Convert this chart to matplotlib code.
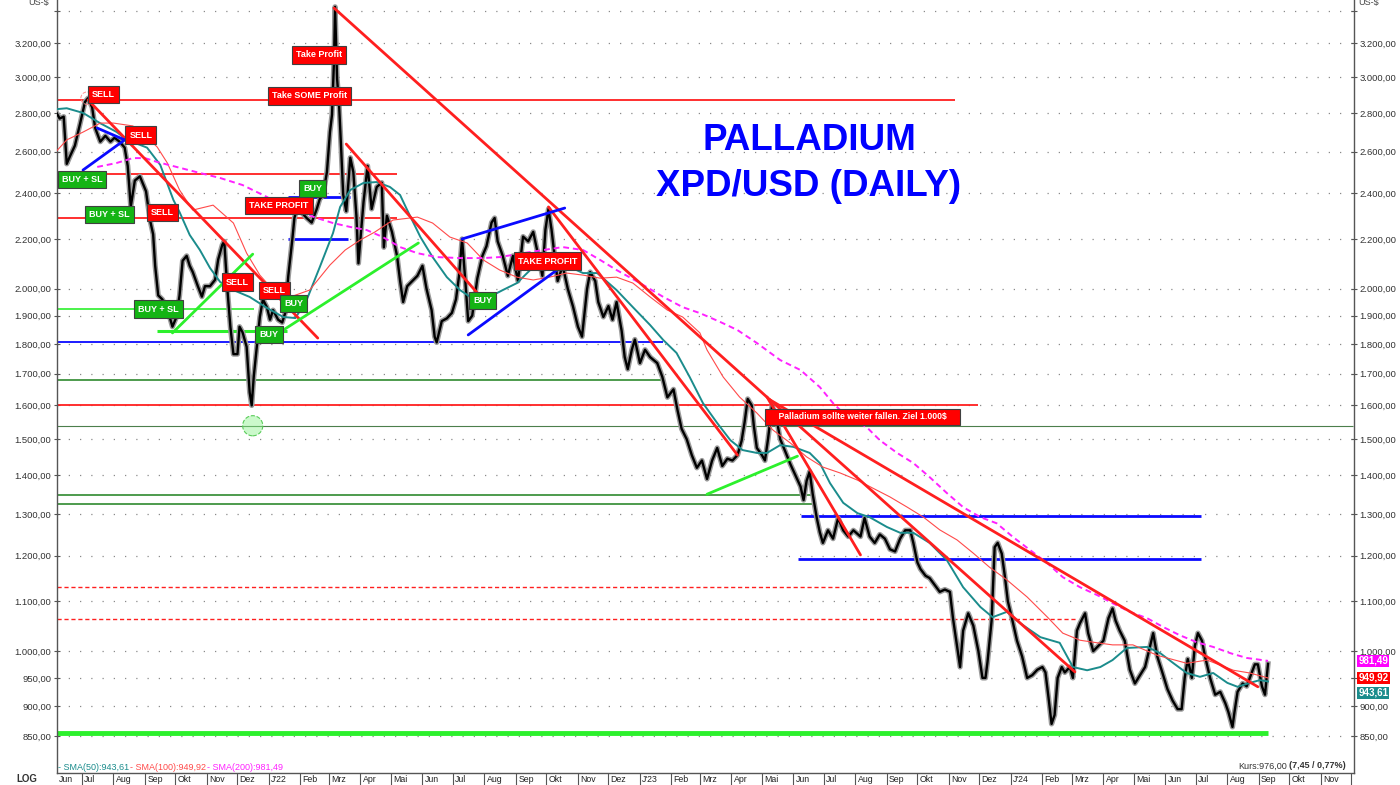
import matplotlib
matplotlib.use("Agg")
import matplotlib.pyplot as plt
import matplotlib.dates as mdates
import pandas as pd
from matplotlib.ticker import FixedLocator, FuncFormatter, NullLocator

plt.rcParams["font.family"] = ["Liberation Sans", "DejaVu Sans"]

# ---------------------------------------------------------------------------
# Values (XPD/USD daily, log scale)
# ---------------------------------------------------------------------------
PRICE_DATES = [
    "2021-06-06", "2021-06-09", "2021-06-13", "2021-06-16", "2021-06-19", "2021-06-24", "2021-06-29",
    "2021-07-04", "2021-07-07", "2021-07-11", "2021-07-14", "2021-07-19", "2021-07-24", "2021-07-29",
    "2021-08-02", "2021-08-07", "2021-08-12", "2021-08-15", "2021-08-18", "2021-08-22", "2021-08-27",
    "2021-09-02", "2021-09-06", "2021-09-09", "2021-09-11", "2021-09-14", "2021-09-18", "2021-09-23",
    "2021-09-28", "2021-10-02", "2021-10-05", "2021-10-08", "2021-10-12", "2021-10-15", "2021-10-18",
    "2021-10-23", "2021-10-27", "2021-10-30", "2021-11-04", "2021-11-09", "2021-11-12", "2021-11-16",
    "2021-11-18", "2021-11-21", "2021-11-24", "2021-11-27", "2021-12-01", "2021-12-03", "2021-12-06",
    "2021-12-10", "2021-12-13", "2021-12-15", "2021-12-17", "2021-12-20", "2021-12-23", "2021-12-26",
    "2021-12-30", "2022-01-02", "2022-01-05", "2022-01-10", "2022-01-14", "2022-01-17", "2022-01-20",
    "2022-01-24", "2022-01-26", "2022-01-29", "2022-02-01", "2022-02-07", "2022-02-12", "2022-02-17",
    "2022-02-20", "2022-02-23", "2022-02-27", "2022-03-02", "2022-03-04", "2022-03-06", "2022-03-07",
    "2022-03-09", "2022-03-11", "2022-03-13", "2022-03-15", "2022-03-18", "2022-03-22", "2022-03-25",
    "2022-03-28", "2022-03-30", "2022-04-04", "2022-04-08", "2022-04-12", "2022-04-17", "2022-04-22",
    "2022-04-24", "2022-04-27", "2022-05-02", "2022-05-07", "2022-05-10", "2022-05-13", "2022-05-17",
    "2022-05-22", "2022-05-27", "2022-06-01", "2022-06-05", "2022-06-10", "2022-06-13", "2022-06-15",
    "2022-06-20", "2022-06-25", "2022-06-30", "2022-07-04", "2022-07-07", "2022-07-10", "2022-07-13",
    "2022-07-16", "2022-07-20", "2022-07-25", "2022-07-30", "2022-08-03", "2022-08-08", "2022-08-11",
    "2022-08-14", "2022-08-19", "2022-08-24", "2022-08-29", "2022-09-03", "2022-09-08", "2022-09-13",
    "2022-09-18", "2022-09-23", "2022-09-27", "2022-09-30", "2022-10-03", "2022-10-06", "2022-10-09",
    "2022-10-12", "2022-10-17", "2022-10-22", "2022-10-27", "2022-11-01", "2022-11-05", "2022-11-10",
    "2022-11-13", "2022-11-18", "2022-11-21", "2022-11-26", "2022-12-01", "2022-12-05", "2022-12-09",
    "2022-12-14", "2022-12-17", "2022-12-20", "2022-12-24", "2022-12-27", "2023-01-01", "2023-01-06",
    "2023-01-11", "2023-01-18", "2023-01-23", "2023-01-28", "2023-02-03", "2023-02-07", "2023-02-11",
    "2023-02-16", "2023-02-21", "2023-02-26", "2023-03-03", "2023-03-08", "2023-03-13", "2023-03-18",
    "2023-03-23", "2023-03-28", "2023-04-02", "2023-04-07", "2023-04-11", "2023-04-14", "2023-04-17",
    "2023-04-21", "2023-04-23", "2023-04-26", "2023-05-01", "2023-05-04", "2023-05-07", "2023-05-11",
    "2023-05-16", "2023-05-19", "2023-05-24", "2023-05-29", "2023-06-03", "2023-06-08", "2023-06-11",
    "2023-06-14", "2023-06-17", "2023-06-20", "2023-06-24", "2023-06-27", "2023-06-30", "2023-07-05",
    "2023-07-10", "2023-07-15", "2023-07-20", "2023-07-25", "2023-07-30", "2023-08-06", "2023-08-10",
    "2023-08-15", "2023-08-20", "2023-08-25", "2023-08-30", "2023-09-04", "2023-09-09", "2023-09-14",
    "2023-09-19", "2023-09-24", "2023-09-27", "2023-10-01", "2023-10-04", "2023-10-09", "2023-10-13",
    "2023-10-18", "2023-10-23", "2023-10-28", "2023-11-02", "2023-11-05", "2023-11-09", "2023-11-12",
    "2023-11-15", "2023-11-20", "2023-11-25", "2023-11-30", "2023-12-04", "2023-12-07", "2023-12-09",
    "2023-12-13", "2023-12-16", "2023-12-19", "2023-12-23", "2023-12-26", "2023-12-29", "2024-01-02",
    "2024-01-07", "2024-01-12", "2024-01-17", "2024-01-22", "2024-01-27", "2024-02-01", "2024-02-04",
    "2024-02-07", "2024-02-10", "2024-02-13", "2024-02-16", "2024-02-20", "2024-02-23", "2024-02-28",
    "2024-03-02", "2024-03-06", "2024-03-09", "2024-03-14", "2024-03-17", "2024-03-22", "2024-03-27",
    "2024-04-01", "2024-04-06", "2024-04-10", "2024-04-13", "2024-04-17", "2024-04-22", "2024-04-27",
    "2024-05-02", "2024-05-07", "2024-05-12", "2024-05-17", "2024-05-20", "2024-05-24", "2024-05-29",
    "2024-06-03", "2024-06-08", "2024-06-13", "2024-06-17", "2024-06-20", "2024-06-23", "2024-06-27",
    "2024-06-30", "2024-07-03", "2024-07-07", "2024-07-10", "2024-07-15", "2024-07-20", "2024-07-25",
    "2024-07-30", "2024-08-02", "2024-08-06", "2024-08-08", "2024-08-11", "2024-08-16", "2024-08-20",
    "2024-08-23", "2024-08-28", "2024-08-31", "2024-09-04", "2024-09-07", "2024-09-10",
]
PRICE = [
    2800, 2770, 2780, 2540, 2575, 2630, 2740,
    2860, 2880, 2830, 2720, 2650, 2680, 2650,
    2670, 2650, 2620, 2530, 2340, 2460, 2480,
    2410, 2280, 2220, 2090, 1975, 1960, 1925,
    1860, 1895, 1975, 2110, 2130, 2090, 2065,
    2010, 1970, 2010, 2010, 2035, 2115, 2175,
    2190, 2000, 1860, 1765, 1765, 1860, 1840,
    1790, 1640, 1600, 1690, 1790, 1895, 1960,
    1930, 1885, 1920, 1885, 1875, 1910, 2050,
    2200, 2290, 2340, 2320, 2290, 2270, 2330,
    2375, 2390, 2500, 2700, 2790, 3100, 3430,
    2990, 2840, 2615, 2395, 2320, 2570, 2500,
    2300, 2100, 2360, 2530, 2330, 2430, 2450,
    2165, 2300, 2230, 2130, 2030, 1950, 2010,
    2030, 2050, 2090, 2000, 1920, 1825, 1805,
    1880, 1890, 1910, 1960, 2050, 2200, 2040,
    1880, 1900, 2040, 2130, 2170, 2270, 2290,
    2190, 2130, 2050, 2130, 2030, 2210, 2190,
    2230, 2130, 2050, 2240, 2330, 2240, 2130,
    2030, 2090, 2000, 1935, 1860, 1825, 2000,
    2065, 2030, 1950, 1895, 1935, 1885, 1950,
    1845, 1755, 1715, 1780, 1815, 1735, 1780,
    1755, 1735, 1690, 1625, 1650, 1585, 1530,
    1500, 1455, 1420, 1440, 1390, 1440, 1475,
    1425, 1445, 1440, 1455, 1495, 1550, 1620,
    1600, 1540, 1475, 1455, 1440, 1500, 1600,
    1550, 1500, 1465, 1430, 1400, 1370, 1335,
    1385, 1410, 1350, 1290, 1255, 1230, 1260,
    1240, 1290, 1260, 1245, 1260, 1245, 1290,
    1245, 1230, 1250, 1240, 1215, 1210, 1240,
    1260, 1260, 1230, 1185, 1170, 1155, 1150,
    1135, 1120, 1125, 1120, 1065, 1010, 970,
    1040, 1075, 1050, 1000, 950, 950, 980,
    1060, 1220, 1230, 1205, 1155, 1100, 1065,
    1020, 990, 950, 955, 965, 970, 960,
    915, 870, 885, 950, 970, 960, 970,
    950, 1040, 1055, 1075, 1035, 1000, 1010,
    1020, 1065, 1085, 1060, 1040, 1020, 965,
    940, 955, 970, 1010, 1035, 990, 960,
    930, 910, 895, 895, 950, 985, 950,
    1010, 1035, 1020, 990, 950, 920, 925,
    905, 890, 865, 890, 925, 940, 935,
    950, 975, 975, 935, 920, 976,
]

SMA50_DATES = [
    "2021-06-06", "2021-06-16", "2021-07-02", "2021-07-19", "2021-08-04", "2021-08-14", "2021-09-03",
    "2021-09-16", "2021-09-29", "2021-10-05", "2021-10-15", "2021-10-25", "2021-11-04", "2021-11-14",
    "2021-11-27", "2021-12-13", "2021-12-30", "2022-01-15", "2022-01-27", "2022-02-07", "2022-02-20",
    "2022-03-05", "2022-03-12", "2022-03-22", "2022-04-04", "2022-04-17", "2022-04-30", "2022-05-10",
    "2022-05-17", "2022-05-30", "2022-06-11", "2022-06-25", "2022-07-08", "2022-07-18", "2022-08-06",
    "2022-08-19", "2022-09-02", "2022-09-15", "2022-10-04", "2022-10-24", "2022-11-06", "2022-11-20",
    "2022-12-09", "2022-12-25", "2023-01-11", "2023-01-24", "2023-02-06", "2023-02-19", "2023-03-04",
    "2023-03-18", "2023-03-31", "2023-04-12", "2023-04-26", "2023-05-06", "2023-05-19", "2023-06-01",
    "2023-06-17", "2023-06-27", "2023-07-07", "2023-07-20", "2023-08-03", "2023-08-15", "2023-09-01",
    "2023-09-14", "2023-09-27", "2023-10-13", "2023-10-30", "2023-11-15", "2023-12-02", "2023-12-14",
    "2023-12-28", "2024-01-10", "2024-01-30", "2024-02-18", "2024-03-02", "2024-03-16", "2024-03-29",
    "2024-04-10", "2024-04-24", "2024-05-14", "2024-05-27", "2024-06-09", "2024-06-22", "2024-07-05",
    "2024-07-18", "2024-08-01", "2024-08-11", "2024-08-23", "2024-09-02", "2024-09-10",
]
SMA50 = [
    2820, 2825, 2800, 2745, 2700, 2660, 2620,
    2535, 2370, 2316, 2217, 2154, 2081, 2026,
    1995, 1969, 1928, 1895, 1891, 1957, 2085,
    2225, 2339, 2416, 2449, 2453, 2430, 2393,
    2325, 2208, 2125, 2045, 1995, 1969, 1969,
    1995, 2022, 2073, 2073, 2085, 2061, 2061,
    1995, 1931, 1866, 1813, 1769, 1689, 1607,
    1547, 1497, 1469, 1461, 1461, 1483, 1478,
    1461, 1433, 1379, 1328, 1302, 1292, 1268,
    1254, 1254, 1230, 1190, 1130, 1088, 1067,
    1078, 1055, 1027, 1016, 970, 964, 970,
    983, 1006, 1008, 996, 977, 959, 952,
    959, 941, 934, 941, 946, 943.61,
]

SMA100_DATES = [
    "2021-06-06", "2021-06-16", "2021-07-02", "2021-07-19", "2021-08-01", "2021-08-20", "2021-08-30",
    "2021-09-13", "2021-09-23", "2021-10-05", "2021-10-18", "2021-11-07", "2021-11-27", "2021-12-10",
    "2021-12-23", "2022-01-07", "2022-01-22", "2022-02-10", "2022-03-02", "2022-03-17", "2022-04-01",
    "2022-04-15", "2022-05-03", "2022-05-27", "2022-06-11", "2022-06-28", "2022-07-15", "2022-07-31",
    "2022-08-16", "2022-09-02", "2022-09-18", "2022-10-04", "2022-10-21", "2022-11-06", "2022-11-23",
    "2022-12-09", "2022-12-25", "2023-01-11", "2023-01-28", "2023-02-12", "2023-03-01", "2023-03-08",
    "2023-03-24", "2023-04-09", "2023-04-26", "2023-05-12", "2023-05-29", "2023-06-14", "2023-06-30",
    "2023-07-17", "2023-08-03", "2023-08-18", "2023-09-04", "2023-09-21", "2023-10-07", "2023-10-23",
    "2023-11-09", "2023-11-25", "2023-12-11", "2023-12-28", "2024-01-17", "2024-02-06", "2024-02-21",
    "2024-03-09", "2024-03-26", "2024-04-10", "2024-04-30", "2024-05-24", "2024-06-22", "2024-07-12",
    "2024-08-07", "2024-08-23", "2024-09-10",
]
SMA100 = [
    2603, 2659, 2699, 2746, 2746, 2731, 2694,
    2623, 2544, 2416, 2325, 2347, 2268, 2141,
    2053, 1987, 1969, 1995, 2093, 2154, 2196,
    2229, 2281, 2294, 2268, 2208, 2183, 2113,
    2073, 2045, 2034, 2045, 2061, 2053, 2041,
    2045, 2022, 1969, 1920, 1895, 1838, 1779,
    1689, 1626, 1577, 1526, 1489, 1450, 1422,
    1406, 1387, 1366, 1343, 1317, 1292, 1261,
    1237, 1206, 1174, 1146, 1109, 1067, 1035,
    1021, 1016, 1012, 1012, 992, 977, 983,
    964, 959, 949.92,
]

SMA200_DATES = [
    "2021-07-16", "2021-08-04", "2021-08-20", "2021-09-01", "2021-09-13", "2021-10-02", "2021-10-25",
    "2021-11-14", "2021-12-06", "2021-12-30", "2022-01-15", "2022-02-01", "2022-02-17", "2022-03-05",
    "2022-03-22", "2022-04-07", "2022-04-23", "2022-05-10", "2022-05-27", "2022-06-15", "2022-07-08",
    "2022-07-31", "2022-08-16", "2022-09-08", "2022-09-28", "2022-10-17", "2022-11-06", "2022-11-23",
    "2022-12-09", "2023-01-01", "2023-01-24", "2023-02-12", "2023-03-01", "2023-03-21", "2023-04-07",
    "2023-04-26", "2023-05-19", "2023-06-08", "2023-06-27", "2023-07-10", "2023-07-24", "2023-08-12",
    "2023-08-25", "2023-09-11", "2023-09-27", "2023-10-13", "2023-10-30", "2023-11-15", "2023-12-02",
    "2023-12-18", "2024-01-03", "2024-01-20", "2024-02-06", "2024-02-21", "2024-03-09", "2024-03-26",
    "2024-04-10", "2024-04-27", "2024-05-14", "2024-05-30", "2024-06-15", "2024-07-02", "2024-07-18",
    "2024-08-04", "2024-08-20", "2024-09-10",
]
SMA200 = [
    2525, 2544, 2568, 2568, 2549, 2525, 2496,
    2472, 2439, 2384, 2339, 2316, 2290, 2268,
    2251, 2238, 2208, 2166, 2141, 2125, 2121,
    2121, 2125, 2141, 2154, 2166, 2154, 2113,
    2073, 2022, 1969, 1931, 1909, 1877, 1848,
    1803, 1745, 1712, 1657, 1607, 1565, 1535,
    1497, 1461, 1433, 1395, 1353, 1317, 1292,
    1277, 1244, 1213, 1183, 1152, 1130, 1113,
    1096, 1078, 1065, 1047, 1031, 1017, 1008,
    996, 987, 981.49,
]

# horizontal levels: (price, start, end); start None = left edge of the chart
RED_LEVELS = [(2870, None, "2023-11-07"), (2490, None, "2022-05-07"),
              (2290, None, "2022-05-07"), (1602, None, "2023-11-30")]
RED_DASHED_LEVELS = [(1130, None, "2023-10-09"), (1063, None, "2024-03-06")]
BLUE_LEVELS = [(1805, None, "2023-01-24")]
BLUE_THICK_LEVELS = [(1295, "2023-06-08", "2024-07-06"), (1193, "2023-06-06", "2024-07-06"),
                     (2385, "2022-01-20", "2022-03-22"), (2200, "2022-01-20", "2022-03-20")]
DARK_GREEN_LEVELS = [(1680, None, "2023-01-24"), (1349, None, "2023-06-22"),
                     (1324, None, "2023-06-22")]
THIN_GREEN_LEVELS = [(1539, None, "2024-12-03")]
LIME_LEVELS = [(1924, None, "2021-12-17")]
LIME_THICK_LEVELS = [(1846, "2021-09-13", "2022-01-19")]
SUPPORT_LEVELS = [(855, None, "2024-09-10")]

# trend lines: (start date, start price, end date, end price)
RED_TRENDS = [
    ("2021-07-07", 2870, "2022-02-18", 1820),
    ("2022-03-06", 3422, "2023-05-09", 1617),
    ("2023-05-09", 1617, "2024-08-31", 934),
    ("2022-10-03", 2339, "2023-04-07", 1455),
    ("2023-05-06", 1626, "2023-08-06", 1202),
    ("2023-05-09", 1617, "2024-03-04", 961),
    ("2022-03-18", 2638, "2022-07-25", 1984),
]
BLUE_TRENDS = [
    ("2021-07-02", 2510, "2021-08-12", 2659),
    ("2021-07-16", 2720, "2021-08-12", 2659),
    ("2022-07-10", 2200, "2022-10-19", 2334),
    ("2022-07-16", 1831, "2022-10-14", 2081),
]
GREEN_TRENDS = [
    ("2021-09-28", 1838, "2021-12-16", 2137),
    ("2022-01-15", 1848, "2022-05-28", 2183),
    ("2023-03-08", 1350, "2023-06-05", 1452),
]

SELL_LABELS = [
    ("SELL", "2021-07-22", 2898), ("SELL", "2021-08-28", 2684), ("SELL", "2021-09-18", 2316),
    ("SELL", "2021-12-01", 2026), ("SELL", "2022-01-06", 1995),
    ("Take Profit", "2022-02-19", 3128), ("Take SOME Profit", "2022-02-10", 2892),
    ("TAKE PROFIT", "2022-01-11", 2347), ("TAKE PROFIT", "2022-10-02", 2109),
]
BUY_LABELS = [
    ("BUY + SL", "2021-07-01", 2467), ("BUY + SL", "2021-07-28", 2307),
    ("BUY + SL", "2021-09-14", 1924), ("BUY", "2022-02-13", 2421),
    ("BUY", "2022-01-25", 1946), ("BUY", "2022-01-01", 1834), ("BUY", "2022-07-30", 1957),
]
NOTE_TEXT = "Palladium sollte weiter fallen. Ziel 1.000$"
NOTE_POS = ("2023-08-08", 1565)
LOW_MARK = ("2021-12-16", 1539)
HIGH_MARK = ("2021-07-06", 2880)

YTICKS = [850, 900, 950, 1000, 1100, 1200, 1300, 1400, 1500, 1600, 1700, 1800,
          1900, 2000, 2200, 2400, 2600, 2800, 3000, 3200, 3400]
MONTH_NAMES = ["J", "Feb", "Mrz", "Apr", "Mai", "Jun", "Jul", "Aug", "Sep", "Okt", "Nov", "Dez"]
LAST = {"SMA(50)": 943.61, "SMA(100)": 949.92, "SMA(200)": 981.49}

XMIN, XMAX = "2021-06-06 10:00", "2024-12-03 14:00"
YMIN, YMAX = 792, 3475

C_RED = "#ff1f1f"
C_BLUE = "#0a0aff"
C_LIME = "#2cf02c"
C_DGREEN = "#2f8a2f"
C_TEAL = "#1b8c8c"
C_SMA100 = "#ff4a4a"
C_SMA200 = "#ff22ff"

W, H = 1400, 785


def dn(s):
    return mdates.date2num(pd.Timestamp(s))


def px(x, y):
    return x / W, 1 - y / H


def de_fmt(v, pos=None):
    if v >= 3300:
        return ""
    s = f"{v:,.2f}"
    return s.replace(",", "X").replace(".", ",").replace("X", ".")


fig = plt.figure(figsize=(W / 100, H / 100), dpi=100)
ax = fig.add_axes([57 / W, 12 / H, (1354 - 57) / W, 773 / H])
ax.set_yscale("log")
ax.set_xlim(dn(XMIN), dn(XMAX))
ax.set_ylim(YMIN, YMAX)


def draw_levels(levels, **kw):
    for price, start, end in levels:
        x0 = dn(start) if start else dn(XMIN)
        ax.plot([x0, dn(end)], [price, price], solid_capstyle="butt", **kw)


draw_levels(RED_LEVELS, color=C_RED, lw=1.3, zorder=2)
draw_levels(RED_DASHED_LEVELS, color=C_RED, lw=1.0, ls=(0, (3, 2)), zorder=2)
draw_levels(BLUE_LEVELS, color=C_BLUE, lw=1.3, zorder=2)
draw_levels(BLUE_THICK_LEVELS, color=C_BLUE, lw=2.0, zorder=2)
draw_levels(DARK_GREEN_LEVELS, color=C_DGREEN, lw=1.2, zorder=2)
draw_levels(THIN_GREEN_LEVELS, color="#4c7f4c", lw=0.8, zorder=2)
draw_levels(LIME_LEVELS, color=C_LIME, lw=1.2, zorder=2)
draw_levels(LIME_THICK_LEVELS, color=C_LIME, lw=2.2, zorder=2)
draw_levels(SUPPORT_LEVELS, color=C_LIME, lw=3.5, zorder=2)

# price (daily bars look: grey shadow under a black line)
px_dates = [dn(d) for d in PRICE_DATES]
ax.plot(px_dates, PRICE, color="#9a9a9a", lw=3.8, zorder=3)
ax.plot(px_dates, PRICE, color="black", lw=1.7, zorder=3)

# moving averages
ax.plot([dn(d) for d in SMA50_DATES], SMA50, color=C_TEAL, lw=1.4, zorder=4)
ax.plot([dn(d) for d in SMA100_DATES], SMA100, color=C_SMA100, lw=0.8, zorder=4)
ax.plot([dn(d) for d in SMA200_DATES], SMA200, color=C_SMA200, lw=1.4,
        ls=(0, (3, 2)), zorder=4)

for group, color, lw in ((RED_TRENDS, C_RED, 2.0), (BLUE_TRENDS, C_BLUE, 2.0),
                         (GREEN_TRENDS, C_LIME, 2.0)):
    for d0, p0, d1, p1 in group:
        ax.plot([dn(d0), dn(d1)], [p0, p1], color=color, lw=lw, zorder=5,
                solid_capstyle="round")

ax.scatter([dn(LOW_MARK[0])], [LOW_MARK[1]], s=210, facecolor=(0.55, 0.95, 0.55, 0.45),
           edgecolor="#5acc5a", linestyle="--", lw=0.8, zorder=5)
ax.scatter([dn(HIGH_MARK[0])], [HIGH_MARK[1]], s=80, facecolor="none",
           edgecolor="#ff9090", linestyle="--", lw=0.7, zorder=5)


def box_label(text, when, price, face, size=6.5, pad=0.45):
    ax.text(dn(when), price, text, ha="center", va="center", color="white",
            fontsize=size, fontweight="bold", zorder=7,
            bbox=dict(boxstyle=f"square,pad={pad}", fc=face, ec="#404040", lw=0.8))


for text, when, price in SELL_LABELS:
    box_label(text, when, price, "#ff0000")
for text, when, price in BUY_LABELS:
    box_label(text, when, price, "#14b414")
box_label("    " + NOTE_TEXT + "    ", NOTE_POS[0], NOTE_POS[1], "#ff0000", size=6.2, pad=0.4)

# axes styling
ax.yaxis.set_major_locator(FixedLocator(YTICKS))
ax.yaxis.set_minor_locator(NullLocator())
ax.yaxis.set_major_formatter(FuncFormatter(de_fmt))
ax.tick_params(axis="y", which="major", direction="inout", length=4, width=0.8,
               color="#555555", labelsize=6.8, labelcolor="#333333", pad=2,
               left=True, right=True, labelleft=True, labelright=True)
ax.yaxis.grid(True, linestyle=(0, (1, 8)), color="#8a8a8a", lw=0.9)
ax.set_axisbelow(True)

months = pd.date_range("2021-06-01", "2024-11-01", freq="MS")
ax.set_xticks([dn(m) for m in months if dn(m) >= dn(XMIN)] + [dn("2024-12-01")])
ax.tick_params(axis="x", direction="out", length=8.6, width=0.8, color="#555555",
               labelbottom=False)
for m in months:
    name = MONTH_NAMES[m.month - 1]
    if m.month == 1:
        name = f"J'{m.year % 100:02d}"
    ax.annotate(name, xy=(max(dn(m), dn(XMIN)), 0), xycoords=("data", "axes fraction"),
                xytext=(1.6, -1.6), textcoords="offset points", ha="left", va="top",
                fontsize=6.3, color="#222222", annotation_clip=False)

for side in ("left", "right", "bottom"):
    ax.spines[side].set_color("#555555")
    ax.spines[side].set_linewidth(1.0)
ax.spines["top"].set_visible(False)

# last-value boxes on the right axis (the SMA(50) box sits just under the SMA(100) one)
box_faces = {"SMA(50)": "#1b8c8c", "SMA(100)": "#ff0000", "SMA(200)": "#ff00ff"}
box_shift = {"SMA(50)": -8.0, "SMA(100)": 0.0, "SMA(200)": 0.0}
for name, val in LAST.items():
    ax.annotate(f"{val:.2f}".replace(".", ","), xy=(1, val),
                xycoords=("axes fraction", "data"), xytext=(3.2, box_shift[name]),
                textcoords="offset points", ha="left", va="center", fontsize=7,
                fontweight="bold", color="white", annotation_clip=False, zorder=8,
                bbox=dict(boxstyle="square,pad=0.1", fc=box_faces[name], ec="none"))

# title
fig.text(*px(809, 150), "PALLADIUM", ha="center", va="baseline", fontsize=26.5,
         fontweight="bold", color="#0000ff")
fig.text(*px(809, 196), "XPD/USD (DAILY)", ha="center", va="baseline", fontsize=26.5,
         fontweight="bold", color="#0000ff")

# frame texts
fig.text(*px(49, 3), "US-$", ha="right", va="center", fontsize=6.5, color="#444444")
fig.text(*px(1358, 3), "US-$", ha="left", va="center", fontsize=6.5, color="#444444")
fig.text(*px(27, 779), "LOG", ha="center", va="center", fontsize=7, fontweight="bold",
         color="#333333")

legend_x = [58, 130, 207]
legend_c = [C_TEAL, C_SMA100, C_SMA200]
for x, (name, val), c in zip(legend_x, LAST.items(), legend_c):
    fig.text(*px(x, 767), f"- {name}:{val:.2f}".replace(".", ","), ha="left",
             va="center", fontsize=6.5, color=c)

fig.text(*px(1287, 766), "Kurs:976,00", ha="right", va="center", fontsize=6.5,
         color="#333333")
fig.text(*px(1289, 766), "(7,45 / 0,77%)", ha="left", va="center", fontsize=6.5,
         fontweight="bold", color="#333333")

fig.savefig("out.png", dpi=100)
